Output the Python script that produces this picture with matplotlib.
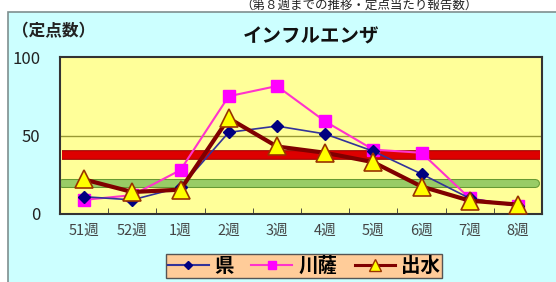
import matplotlib.pyplot as plt
import matplotlib.patheffects as pe
from matplotlib.patches import Rectangle
from matplotlib.lines import Line2D

plt.rcParams['font.family'] = ['Noto Sans CJK JP', 'DejaVu Sans']

# 週ラベルと定点当たり報告数
weeks = ["51週", "52週", "1週", "2週", "3週", "4週", "5週", "6週", "7週", "8週"]
ken = [11, 9, 17, 52, 56, 51, 40, 25.5, 10, 5]
sensatsu = [9, 12, 28, 75, 81.5, 59, 41, 39, 10, 5]
izumi = [22, 14, 15.5, 61, 43, 39, 33, 17.5, 8.5, 6]

# 基準線
red_level = 37.5
green_level = 20

fig = plt.figure(figsize=(5.56, 2.82), dpi=100)
fig.patch.set_facecolor("white")

# グラフエリア（水色）
bg = Rectangle((8 / 556, -0.01), 1.0, (282 - 12) / 282 + 0.01,
               transform=fig.transFigure, facecolor="#CCFFFF",
               edgecolor="#7f8f8f", linewidth=1.2, zorder=-5)
fig.add_artist(bg)

fig.text(240 / 556, 1.0, "（第８週までの推移・定点当たり報告数）", fontsize=9,
         va="top", ha="left", color="#222222")

ax = fig.add_axes([60 / 556, (282 - 214) / 282, 482 / 556, 157 / 282])
ax.set_zorder(2)
ax.set_facecolor("#FFFF99")
x = list(range(len(weeks)))

ax.axhline(50, color="#999933", linewidth=1.0, zorder=1)

ax.plot([-0.45, 9.45], [red_level] * 2, color="#DD0000", linewidth=5.5,
        solid_capstyle="butt", zorder=2,
        path_effects=[pe.Stroke(linewidth=7, foreground="#990000"), pe.Normal()])
ax.plot([-0.45, 9.35], [green_level] * 2, color="#99CC66", linewidth=5,
        solid_capstyle="round", zorder=2,
        path_effects=[pe.Stroke(linewidth=6.5, foreground="#669933"), pe.Normal()])

ax.plot(x, ken, color="#333399", marker="D", markersize=6,
        markerfacecolor="#000080", markeredgecolor="#000080", linewidth=1.2, zorder=4)
ax.plot(x, sensatsu, color="#FF33CC", marker="s", markersize=8,
        markerfacecolor="#FF00FF", markeredgecolor="#FF00FF", linewidth=1.5, zorder=3)
ax.plot(x, izumi, color="#800000", marker="^", markersize=13,
        markerfacecolor="#FFFF00", markeredgecolor="#993300", markeredgewidth=1.2,
        linewidth=3, zorder=5)

ax.set_xlim(-0.5, 9.5)
ax.set_ylim(0, 100)
ax.set_yticks([0, 50, 100])
ax.set_yticklabels(["0", "50", "100"], fontsize=12, color="#222222")
ax.tick_params(axis="y", length=0, pad=14)
ax.set_xticks(x)
ax.set_xticklabels(weeks, fontsize=10.5, color="#444444")
ax.tick_params(axis="x", length=0, pad=7)
ax.set_xticks([i + 0.5 for i in range(len(weeks) - 1)], minor=True)
ax.tick_params(axis="x", which="minor", direction="in", length=4, color="#333333")
for s in ax.spines.values():
    s.set_color("#333333")
    s.set_linewidth(1.5)

fig.text(12 / 556, 1 - 31 / 282, "（定点数）", fontsize=12, fontweight="bold",
         va="center", ha="left", color="#222222")
fig.text(311 / 556, 1 - 37 / 282, "インフルエンザ", fontsize=14, fontweight="bold",
         va="center", ha="center", color="#111111")

handles = [
    Line2D([], [], color="#333399", marker="D", markersize=4,
           markerfacecolor="#000080", markeredgecolor="#000080"),
    Line2D([], [], color="#FF33CC", marker="s", markersize=6,
           markerfacecolor="#FF00FF", markeredgecolor="#FF00FF"),
    Line2D([], [], color="#800000", linewidth=2.2, marker="^", markersize=8,
           markerfacecolor="#FFFF00", markeredgecolor="#993300"),
]
leg = fig.legend(handles, ["県", "川薩", "出水"], loc="center",
                 bbox_to_anchor=(304 / 556, 1 - 266 / 282), ncol=3,
                 fontsize=14, frameon=True, fancybox=False, handlelength=2.1,
                 handletextpad=0.3, columnspacing=0.9, borderpad=0.1)
leg.get_frame().set_facecolor("#FFCC99")
leg.get_frame().set_edgecolor("#555555")
leg.get_frame().set_alpha(1)
for t in leg.get_texts():
    t.set_fontweight("bold")

fig.savefig("out.png", dpi=100)
